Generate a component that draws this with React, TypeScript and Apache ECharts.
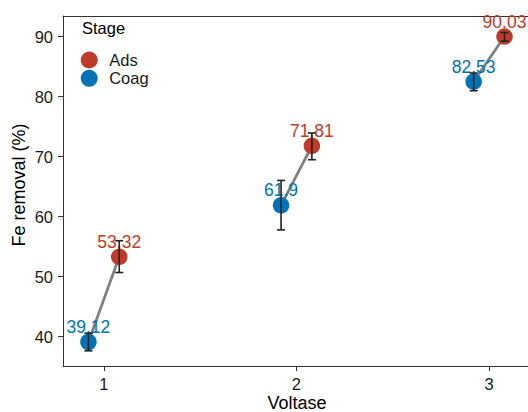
import React, { useEffect, useRef } from "react";
import * as echarts from "echarts";

const voltages = [1, 2, 3];
const adsMean = [53.32, 71.81, 90.03];
const adsLow = [50.7, 69.5, 89.25];
const adsHigh = [56.0, 73.95, 90.7];
const coagMean = [39.12, 61.9, 82.53];
const coagLow = [37.65, 57.8, 81.0];
const coagHigh = [40.6, 66.05, 83.95];
const xTicks = [1, 2, 3];
const yTicks = [40, 50, 60, 70, 80, 90];
const stages = ["Ads", "Coag"];

const DODGE = 0.08;
const RED = "#BC3C29";
const BLUE = "#0072B5";
const FONT = "Liberation Sans, Arial, sans-serif";

export default function App() {
  const ref = useRef<HTMLDivElement>(null);
  useEffect(() => {
    if (!ref.current) return;
    const chart = echarts.init(ref.current, null, { renderer: "svg" });

    const adsPts = voltages.map((v, i) => [v + DODGE, adsMean[i]]);
    const coagPts = voltages.map((v, i) => [v - DODGE, coagMean[i]]);
    const errData = [
      ...voltages.map((v, i) => [v + DODGE, adsLow[i], adsHigh[i]]),
      ...voltages.map((v, i) => [v - DODGE, coagLow[i], coagHigh[i]]),
    ];
    const linkData = voltages.map((v, i) => [v, coagMean[i], adsMean[i]]);

    const axisLineStyle = { color: "#333333", width: 1 };
    const labelStyle = { fontFamily: FONT, fontSize: 16.5, color: "#1a1a1a" };

    const pointLabel = (color: string) => ({
      show: true,
      position: "inside",
      offset: [0, -15],
      color,
      fontFamily: FONT,
      fontSize: 17.5,
      formatter: (p: any) => String(p.value[1]),
    });

    chart.setOption({
      animation: false,
      backgroundColor: "#ffffff",
      grid: { left: 63, right: 0, top: 16, bottom: 46, outerBoundsMode: "none" },
      xAxis: [
        {
          type: "value",
          min: 0.788,
          max: 3.202,
          axisLine: { show: true, lineStyle: axisLineStyle },
          axisTick: { show: true, length: 5, customValues: xTicks, lineStyle: axisLineStyle },
          axisLabel: { ...labelStyle, margin: 9, customValues: xTicks },
          splitLine: { show: false },
        },
        {
          type: "value",
          position: "top",
          min: 0.788,
          max: 3.202,
          axisLine: { show: true, lineStyle: axisLineStyle },
          axisTick: { show: false },
          axisLabel: { show: false },
          splitLine: { show: false },
        },
      ],
      yAxis: {
        type: "value",
        min: 35.12,
        max: 93.45,
        axisLine: { show: true, lineStyle: axisLineStyle },
        axisTick: { show: true, length: 5, customValues: yTicks, lineStyle: axisLineStyle },
        axisLabel: { ...labelStyle, margin: 10, customValues: yTicks },
        splitLine: { show: false },
      },
      legend: {
        data: stages,
        orient: "vertical",
        left: 75.7,
        top: 46.5,
        itemWidth: 30,
        itemHeight: 17,
        itemGap: 1.3,
        icon: "circle",
        itemStyle: { opacity: 1 },
        textStyle: { fontFamily: FONT, fontSize: 16.5, color: "#1a1a1a", lineHeight: 17 },
      },
      graphic: [
        {
          type: "text",
          x: 19,
          y: 185,
          rotation: Math.PI / 2,
          style: {
            text: "Fe removal (%)",
            fontFamily: FONT,
            fontSize: 18,
            fill: "#000",
            textAlign: "center",
            textVerticalAlign: "middle",
          },
        },
        {
          type: "text",
          x: 297,
          y: 403,
          style: {
            text: "Voltase",
            fontFamily: FONT,
            fontSize: 18,
            fill: "#000",
            textAlign: "center",
            textVerticalAlign: "middle",
          },
        },
        {
          type: "text",
          x: 82,
          y: 28,
          style: {
            text: "Stage",
            fontFamily: FONT,
            fontSize: 16.5,
            fill: "#000",
            textAlign: "left",
            textVerticalAlign: "middle",
          },
        },
      ],
      series: [
        {
          type: "custom",
          name: "link",
          clip: false,
          z: 1,
          data: linkData,
          encode: { x: 0, y: [1, 2] },
          renderItem: (params: any, api: any) => {
            const x = api.value(0);
            const a = api.coord([x - DODGE, api.value(1)]);
            const b = api.coord([x + DODGE, api.value(2)]);
            return {
              type: "line",
              shape: { x1: a[0], y1: a[1], x2: b[0], y2: b[1] },
              style: { stroke: "#7f7f7f", lineWidth: 2.7, fill: "none" },
            };
          },
        },
        {
          type: "scatter",
          name: "Ads",
          z: 2,
          symbol: "circle",
          symbolSize: 16.5,
          itemStyle: { color: RED, opacity: 1 },
          data: adsPts,
          label: pointLabel(RED),
        },
        {
          type: "scatter",
          name: "Coag",
          z: 2,
          symbol: "circle",
          symbolSize: 16.5,
          itemStyle: { color: BLUE, opacity: 1 },
          data: coagPts,
          label: pointLabel(BLUE),
        },
        {
          type: "custom",
          name: "err",
          clip: false,
          z: 5,
          data: errData,
          encode: { x: 0, y: [1, 2] },
          renderItem: (params: any, api: any) => {
            const x = api.value(0);
            const lo = api.coord([x, api.value(1)]);
            const hi = api.coord([x, api.value(2)]);
            const hw = 4;
            const style = { stroke: "#222222", lineWidth: 1.6, fill: "none" };
            return {
              type: "group",
              children: [
                { type: "line", shape: { x1: lo[0], y1: lo[1], x2: hi[0], y2: hi[1] }, style },
                { type: "line", shape: { x1: lo[0] - hw, y1: lo[1], x2: lo[0] + hw, y2: lo[1] }, style },
                { type: "line", shape: { x1: hi[0] - hw, y1: hi[1], x2: hi[0] + hw, y2: hi[1] }, style },
              ],
            };
          },
        },
      ],
    });
    return () => chart.dispose();
  }, []);
  return (
    <div
      ref={ref}
      style={{ position: "absolute", left: 0, top: 0, width: 528, height: 412, background: "#fff" }}
    />
  );
}
